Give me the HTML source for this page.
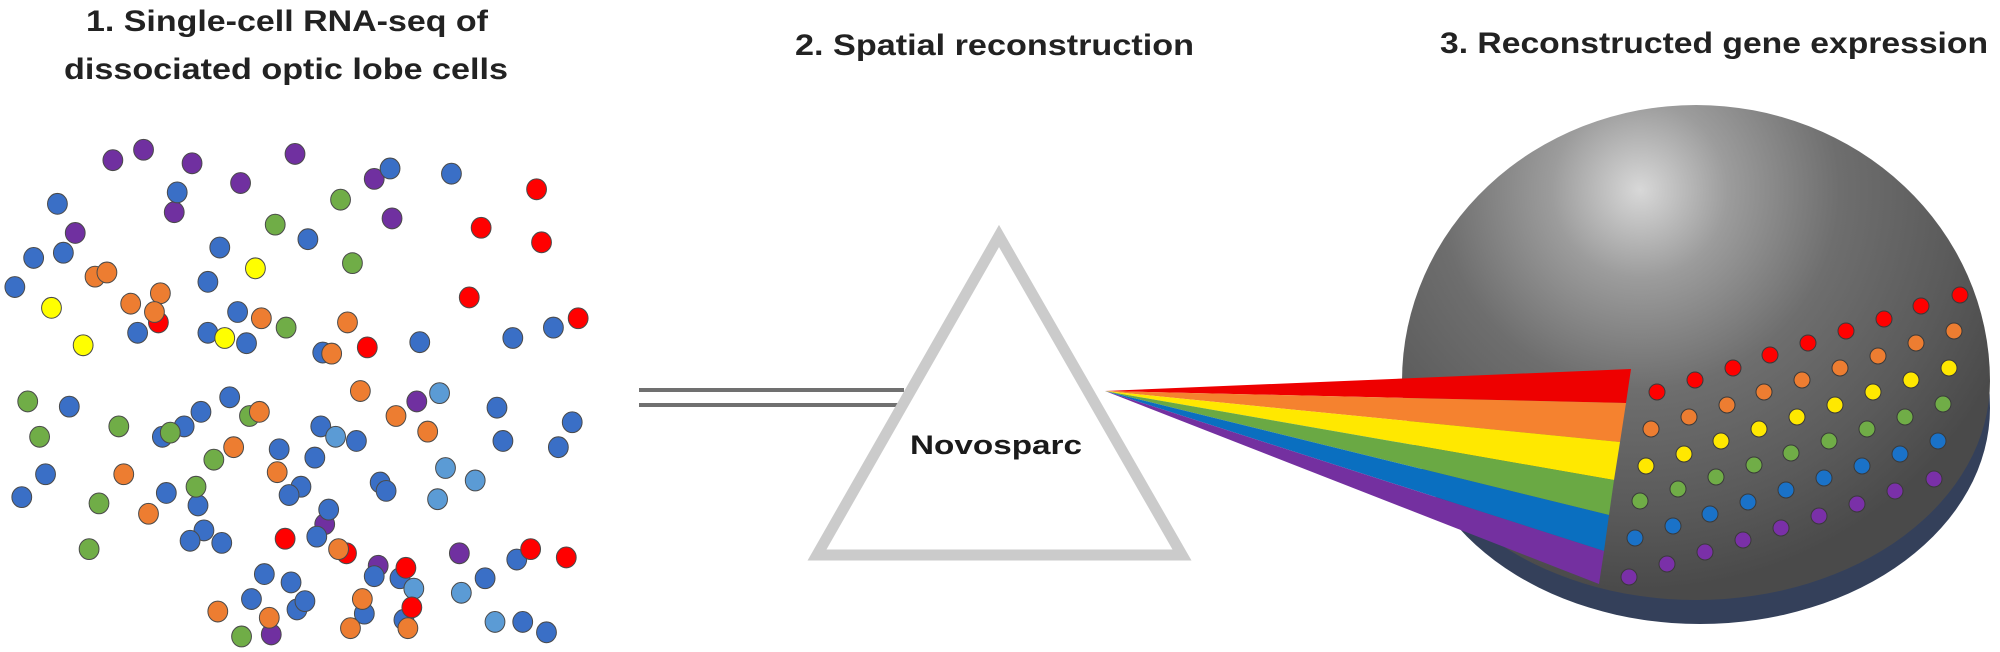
<!DOCTYPE html>
<html><head><meta charset="utf-8"><style>
html,body{margin:0;padding:0;background:#fff;}
svg{display:block;}
text{font-family:"Liberation Sans Narrow","Liberation Sans",sans-serif;font-weight:bold;fill:#222;}
</style></head><body>
<svg width="2000" height="652" viewBox="0 0 2000 652" xmlns="http://www.w3.org/2000/svg">
<defs>
<radialGradient id="sph" cx="1640" cy="190" r="400" gradientUnits="userSpaceOnUse">
<stop offset="0" stop-color="#d8d8d8"/>
<stop offset="0.22" stop-color="#9c9c9c"/>
<stop offset="0.5" stop-color="#6e6e6e"/>
<stop offset="0.8" stop-color="#5a5a5a"/>
<stop offset="1" stop-color="#4a4a4a"/>
</radialGradient>
</defs>
<text x="86" y="31" font-size="30" textLength="402" lengthAdjust="spacingAndGlyphs">1. Single-cell RNA-seq of</text>
<text x="64" y="79" font-size="30" textLength="444" lengthAdjust="spacingAndGlyphs">dissociated optic lobe cells</text>
<text x="795" y="55" font-size="30" textLength="399" lengthAdjust="spacingAndGlyphs">2. Spatial reconstruction</text>
<text x="1440" y="53" font-size="30" textLength="548" lengthAdjust="spacingAndGlyphs">3. Reconstructed gene expression</text>

<g transform="scale(0.99,1.04)" stroke="#4a4a4a" stroke-width="1">
<g fill="#7030a0"><circle cx="114" cy="154" r="10"/><circle cx="145" cy="144" r="10"/><circle cx="194" cy="157" r="10"/><circle cx="298" cy="148" r="10"/><circle cx="243" cy="176" r="10"/><circle cx="378" cy="172" r="10"/><circle cx="396" cy="210" r="10"/><circle cx="76" cy="224" r="10"/><circle cx="176" cy="204" r="10"/><circle cx="421" cy="386" r="10"/><circle cx="328" cy="504" r="10"/><circle cx="464" cy="532" r="10"/><circle cx="382" cy="544" r="10"/><circle cx="274" cy="610" r="10"/></g>
<g fill="#3a6fc6"><circle cx="179" cy="185" r="10"/><circle cx="58" cy="196" r="10"/><circle cx="394" cy="162" r="10"/><circle cx="456" cy="167" r="10"/><circle cx="311" cy="230" r="10"/><circle cx="222" cy="238" r="10"/><circle cx="34" cy="248" r="10"/><circle cx="64" cy="243" r="10"/><circle cx="15" cy="276" r="10"/><circle cx="210" cy="271" r="10"/><circle cx="240" cy="300" r="10"/><circle cx="139" cy="320" r="10"/><circle cx="210" cy="320" r="10"/><circle cx="249" cy="330" r="10"/><circle cx="326" cy="339" r="10"/><circle cx="424" cy="329" r="10"/><circle cx="518" cy="325" r="10"/><circle cx="559" cy="315" r="10"/>
<circle cx="70" cy="391" r="10"/><circle cx="164" cy="420" r="10"/><circle cx="186" cy="410" r="10"/><circle cx="203" cy="396" r="10"/><circle cx="232" cy="382" r="10"/><circle cx="324" cy="410" r="10"/><circle cx="360" cy="424" r="10"/><circle cx="502" cy="392" r="10"/><circle cx="578" cy="406" r="10"/><circle cx="508" cy="424" r="10"/><circle cx="564" cy="430" r="10"/><circle cx="46" cy="456" r="10"/><circle cx="22" cy="478" r="10"/><circle cx="282" cy="432" r="10"/><circle cx="318" cy="440" r="10"/><circle cx="384" cy="464" r="10"/><circle cx="390" cy="472" r="10"/><circle cx="168" cy="474" r="10"/><circle cx="200" cy="486" r="10"/><circle cx="304" cy="468" r="10"/><circle cx="292" cy="476" r="10"/><circle cx="332" cy="490" r="10"/><circle cx="206" cy="510" r="10"/><circle cx="192" cy="520" r="10"/><circle cx="224" cy="522" r="10"/><circle cx="320" cy="516" r="10"/><circle cx="522" cy="538" r="10"/><circle cx="267" cy="552" r="10"/><circle cx="294" cy="560" r="10"/><circle cx="378" cy="554" r="10"/><circle cx="404" cy="556" r="10"/><circle cx="490" cy="556" r="10"/><circle cx="254" cy="576" r="10"/><circle cx="300" cy="586" r="10"/><circle cx="308" cy="578" r="10"/><circle cx="368" cy="590" r="10"/><circle cx="408" cy="596" r="10"/><circle cx="528" cy="598" r="10"/><circle cx="552" cy="608" r="10"/></g>
<g fill="#5b9bd5"><circle cx="444" cy="378" r="10"/><circle cx="339" cy="420" r="10"/><circle cx="450" cy="450" r="10"/><circle cx="480" cy="462" r="10"/><circle cx="442" cy="480" r="10"/><circle cx="418" cy="566" r="10"/><circle cx="466" cy="570" r="10"/><circle cx="500" cy="598" r="10"/></g>
<g fill="#70ad47"><circle cx="344" cy="192" r="10"/><circle cx="278" cy="216" r="10"/><circle cx="356" cy="253" r="10"/><circle cx="289" cy="315" r="10"/><circle cx="28" cy="386" r="10"/><circle cx="40" cy="420" r="10"/><circle cx="120" cy="410" r="10"/><circle cx="172" cy="416" r="10"/><circle cx="252" cy="400" r="10"/><circle cx="216" cy="442" r="10"/><circle cx="100" cy="484" r="10"/><circle cx="198" cy="468" r="10"/><circle cx="90" cy="528" r="10"/><circle cx="244" cy="612" r="10"/></g>
<g fill="#ff0000"><circle cx="542" cy="182" r="10"/><circle cx="486" cy="219" r="10"/><circle cx="547" cy="233" r="10"/><circle cx="474" cy="286" r="10"/><circle cx="584" cy="306" r="10"/><circle cx="371" cy="334" r="10"/><circle cx="160" cy="310" r="10"/><circle cx="288" cy="518" r="10"/><circle cx="350" cy="532" r="10"/><circle cx="536" cy="528" r="10"/><circle cx="572" cy="536" r="10"/><circle cx="410" cy="546" r="10"/><circle cx="416" cy="584" r="10"/></g>
<g fill="#ed7d31"><circle cx="96" cy="266" r="10"/><circle cx="108" cy="262" r="10"/><circle cx="162" cy="282" r="10"/><circle cx="132" cy="292" r="10"/><circle cx="156" cy="300" r="10"/><circle cx="264" cy="306" r="10"/><circle cx="351" cy="310" r="10"/><circle cx="335" cy="340" r="10"/><circle cx="262" cy="396" r="10"/><circle cx="364" cy="376" r="10"/><circle cx="400" cy="400" r="10"/><circle cx="432" cy="415" r="10"/><circle cx="125" cy="456" r="10"/><circle cx="236" cy="430" r="10"/><circle cx="280" cy="454" r="10"/><circle cx="150" cy="494" r="10"/><circle cx="342" cy="528" r="10"/><circle cx="366" cy="576" r="10"/><circle cx="220" cy="588" r="10"/><circle cx="272" cy="594" r="10"/><circle cx="412" cy="604" r="10"/><circle cx="354" cy="604" r="10"/></g>
<g fill="#ffff00"><circle cx="258" cy="258" r="10"/><circle cx="52" cy="296" r="10"/><circle cx="84" cy="332" r="10"/><circle cx="227" cy="325" r="10"/></g>
</g>

<!-- double line -->
<line x1="639" y1="390" x2="904" y2="390" stroke="#707070" stroke-width="4"/>
<line x1="639" y1="405" x2="898" y2="405" stroke="#707070" stroke-width="4"/>
<!-- prism -->
<polygon points="999,236 817,555 1182,555" fill="#fff" stroke="#cbcbcb" stroke-width="11"/>
<text x="910" y="454" font-size="27" textLength="172" lengthAdjust="spacingAndGlyphs" style="fill:#1a1a1a">Novosparc</text>

<!-- sphere base & sphere -->
<path d="M1410,395 A290,270 0 0 1 1990,395 A290,216 0 0 1 1410,395 Z" fill="#34405a" transform="translate(0,13)"/>
<path d="M1402,381 A294,276 0 0 1 1990,381 A294,219 0 0 1 1402,381 Z" fill="url(#sph)"/>

<!-- beam -->
<polygon points="1105,391 1631,369 1626,403" fill="#ee0000"/>
<polygon points="1105,391 1626,403 1620,442" fill="#f5822f"/>
<polygon points="1105,391 1620,442 1614,480" fill="#ffe800"/>
<polygon points="1105,391 1614,480 1609,515" fill="#6aa944"/>
<polygon points="1105,391 1609,515 1604,551" fill="#0a6fc0"/>
<polygon points="1105,391 1604,551 1599,584" fill="#7430a0"/>

<!-- dots on sphere -->
<g stroke="#3a3a3a" stroke-width="1">
<g fill="#ff0000"><circle cx="1657" cy="392" r="8"/><circle cx="1695" cy="380" r="8"/><circle cx="1733" cy="368" r="8"/><circle cx="1770" cy="355" r="8"/><circle cx="1808" cy="343" r="8"/><circle cx="1846" cy="331" r="8"/><circle cx="1884" cy="319" r="8"/><circle cx="1921" cy="306" r="8"/><circle cx="1960" cy="295" r="8"/></g>
<g fill="#ed7d31"><circle cx="1651" cy="429" r="8"/><circle cx="1689" cy="417" r="8"/><circle cx="1727" cy="405" r="8"/><circle cx="1764" cy="392" r="8"/><circle cx="1802" cy="380" r="8"/><circle cx="1840" cy="368" r="8"/><circle cx="1878" cy="356" r="8"/><circle cx="1916" cy="343" r="8"/><circle cx="1954" cy="331" r="8"/></g>
<g fill="#ffe800"><circle cx="1646" cy="466" r="8"/><circle cx="1684" cy="454" r="8"/><circle cx="1721" cy="441" r="8"/><circle cx="1759" cy="429" r="8"/><circle cx="1797" cy="417" r="8"/><circle cx="1835" cy="405" r="8"/><circle cx="1873" cy="392" r="8"/><circle cx="1911" cy="380" r="8"/><circle cx="1949" cy="368" r="8"/></g>
<g fill="#70ad47"><circle cx="1640" cy="501" r="8"/><circle cx="1678" cy="489" r="8"/><circle cx="1716" cy="477" r="8"/><circle cx="1754" cy="465" r="8"/><circle cx="1791" cy="453" r="8"/><circle cx="1829" cy="441" r="8"/><circle cx="1867" cy="429" r="8"/><circle cx="1905" cy="417" r="8"/><circle cx="1943" cy="404" r="8"/></g>
<g fill="#1a72c8"><circle cx="1635" cy="538" r="8"/><circle cx="1673" cy="526" r="8"/><circle cx="1710" cy="514" r="8"/><circle cx="1748" cy="502" r="8"/><circle cx="1786" cy="490" r="8"/><circle cx="1824" cy="478" r="8"/><circle cx="1862" cy="466" r="8"/><circle cx="1900" cy="454" r="8"/><circle cx="1938" cy="441" r="8"/></g>
<g fill="#7a30a8"><circle cx="1629" cy="577" r="8"/><circle cx="1667" cy="564" r="8"/><circle cx="1705" cy="552" r="8"/><circle cx="1743" cy="540" r="8"/><circle cx="1781" cy="528" r="8"/><circle cx="1819" cy="516" r="8"/><circle cx="1857" cy="504" r="8"/><circle cx="1895" cy="491" r="8"/><circle cx="1934" cy="479" r="8"/></g>
</g>
</svg>
</body></html>
